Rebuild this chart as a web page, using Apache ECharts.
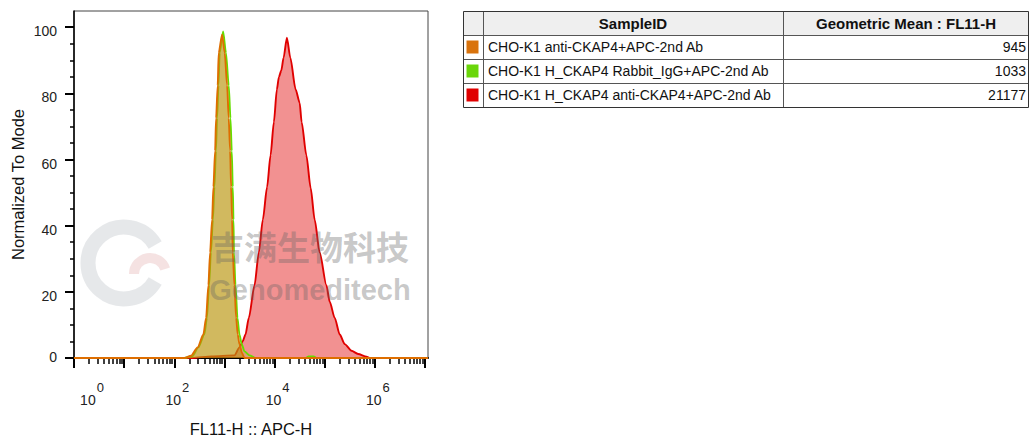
<!DOCTYPE html>
<html>
<head>
<meta charset="utf-8">
<script src="https://cdn.jsdelivr.net/npm/echarts@6/dist/echarts.min.js"></script>
<style>
html,body{margin:0;padding:0;background:#fff;}
#chart{width:1030px;height:442px;}
</style>
</head>
<body>
<div id="chart"></div>
<script>
// ---------- data ----------
const xMin = 1;
const xMax = 11481536; // right edge of the plot (~10^7.06)

const redX = [1, 229, 550, 1585, 1995, 2323, 2630, 3062, 3981, 4853, 5834, 7079, 8318, 9683, 11117, 12190, 13614, 15136, 17620, 20606, 26303, 31623, 34674, 43053, 52481, 63096, 79433, 108143, 125893, 158489, 199526, 251189, 341979, 463447, 682339, 794328, 11481536];
const redY = [0, 0, 0.5, 0.8, 3.2, 5.1, 7.1, 12.1, 22, 31.9, 41.8, 51.6, 61.3, 71.3, 81.2, 84.9, 86.9, 90.8, 96.8, 90.8, 81.2, 77.2, 71.3, 61.3, 51.4, 41.8, 31.9, 22, 17, 12.1, 7.1, 4.2, 2.2, 1.2, 0.4, 0, 0];

const greenX = [1, 160, 229, 302, 398, 447, 494, 537, 589, 631, 676, 714, 759, 805, 942, 1072, 1219, 1318, 1400, 1466, 1514, 1549, 1660, 1820, 1995, 2218, 2512, 3162, 4169, 41687, 47863, 60256, 69183, 11481536];
const greenY = [0, 0, 0.5, 3.2, 7.1, 12.1, 22, 31.9, 41.8, 51.7, 62.6, 72.5, 82.4, 92.3, 98.7, 92.3, 82.4, 72.5, 62.6, 51.7, 41.8, 31.9, 22, 12.1, 7.1, 4.2, 2, 0.8, 0, 0, 0.5, 0.5, 0, 0];

const orangeX = [1, 158, 216, 292, 380, 431, 479, 518, 568, 603, 652, 682, 735, 769, 899, 1014, 1132, 1219, 1300, 1361, 1426, 1466, 1585, 1714, 1845, 1995, 2239, 2512, 11481536];
const orangeY = [0, 0, 0.7, 3.2, 7.1, 12.1, 22, 31.9, 41.8, 51.7, 62.6, 72.5, 82.4, 92.3, 97.7, 92.3, 82.4, 72.5, 62.6, 51.7, 41.8, 31.9, 22, 12.1, 7.1, 4.2, 1.5, 0, 0];

const sampleIds = ['CHO-K1 anti-CKAP4+APC-2nd Ab', 'CHO-K1 H_CKAP4 Rabbit_IgG+APC-2nd Ab', 'CHO-K1 H_CKAP4 anti-CKAP4+APC-2nd Ab'];
const geoMeans = ['945', '1033', '21177'];
const sampleColors = ['#d9730d', '#6ad60a', '#e00000'];
const tableHeaders = ['SampleID', 'Geometric Mean : FL11-H'];

const xMajorTicks = [1, 10, 100, 1000, 10000, 100000, 1000000, 10000000];
const xLabelTicks = [1, 100, 10000, 1000000];
const yMajorTicks = [0, 20, 40, 60, 80, 100];
const yMinorTicks = [5, 10, 15, 25, 30, 35, 45, 50, 55, 65, 70, 75, 85, 90, 95];
const xMinorTicks = [];
[1, 10, 100, 1000, 10000, 100000, 1000000].forEach(function (d) {
  [2, 3, 4, 5, 6, 7, 8, 9].forEach(function (m) { xMinorTicks.push(m * d); });
});
const yMax = 104.9;

// ---------- chart ----------
const FONT = '"Liberation Sans", Arial, Helvetica, sans-serif';
const zip = (xs, ys) => xs.map((x, i) => [x, ys[i]]);
const chart = echarts.init(document.getElementById('chart'), null, { renderer: 'svg' });

// table graphic
const T = { x: 463, y: 11, rowH: 24, c1: 483, c2: 783, right: 1029 };
const gEls = [];
const nRows = sampleIds.length + 1;
gEls.push({ type: 'rect', shape: { x: T.x, y: T.y, width: T.right - T.x, height: T.rowH }, style: { fill: '#efefef' } });
for (let r = 0; r < sampleIds.length; r++) {
  const yy = T.y + T.rowH * (r + 1);
  gEls.push({ type: 'rect', shape: { x: T.x + 3.5, y: yy + 5.5, width: 12, height: 13 }, style: { fill: sampleColors[r] } });
  gEls.push({ type: 'text', x: T.c1 + 5, y: yy + T.rowH / 2, style: { text: sampleIds[r], font: '14px ' + FONT, fill: '#111', verticalAlign: 'middle', align: 'left' } });
  gEls.push({ type: 'text', x: T.right - 3, y: yy + T.rowH / 2, style: { text: geoMeans[r], font: '14px ' + FONT, fill: '#111', verticalAlign: 'middle', align: 'right' } });
}
gEls.push({ type: 'text', x: (T.c1 + T.c2) / 2, y: T.y + T.rowH / 2, style: { text: tableHeaders[0], font: 'bold 15px ' + FONT, fill: '#111', verticalAlign: 'middle', align: 'center' } });
gEls.push({ type: 'text', x: (T.c2 + T.right) / 2, y: T.y + T.rowH / 2, style: { text: tableHeaders[1], font: 'bold 15px ' + FONT, fill: '#111', verticalAlign: 'middle', align: 'center' } });
for (let r = 1; r < nRows; r++) {
  const yy = T.y + T.rowH * r + 0.5;
  gEls.push({ type: 'line', shape: { x1: T.x, y1: yy, x2: T.right, y2: yy }, style: { stroke: '#555', lineWidth: 1 } });
}
gEls.push({ type: 'line', shape: { x1: T.c1 + 0.5, y1: T.y, x2: T.c1 + 0.5, y2: T.y + T.rowH * nRows }, style: { stroke: '#555', lineWidth: 1 } });
gEls.push({ type: 'line', shape: { x1: T.c2 + 0.5, y1: T.y, x2: T.c2 + 0.5, y2: T.y + T.rowH * nRows }, style: { stroke: '#555', lineWidth: 1 } });
gEls.push({ type: 'rect', shape: { x: T.x + 0.5, y: T.y + 0.5, width: T.right - T.x - 1, height: T.rowH * nRows }, style: { fill: 'none', stroke: '#333', lineWidth: 1 } });

// watermark (drawn over the plot, semi-transparent)
gEls.push({ type: 'text', x: 310, y: 246, z: 100, style: { text: '吉满生物科技', font: 'bold 33px "Noto Sans CJK SC", sans-serif', fill: 'rgba(100,100,100,0.36)', align: 'center', verticalAlign: 'middle' } });
gEls.push({ type: 'text', x: 310, y: 290, z: 100, style: { text: 'Genomeditech', font: 'bold 29px ' + FONT, fill: 'rgba(100,100,100,0.36)', align: 'center', verticalAlign: 'middle' } });
gEls.push({ type: 'arc', z: 100, shape: { cx: 124, cy: 263, r: 36, startAngle: Math.PI / 6, endAngle: Math.PI * 11 / 6, clockwise: true }, style: { stroke: 'rgba(140,150,160,0.22)', lineWidth: 15, fill: null } });
gEls.push({ type: 'arc', z: 100, shape: { cx: 150, cy: 274, r: 16, startAngle: Math.PI, endAngle: Math.PI * 1.9, clockwise: true }, style: { stroke: 'rgba(215,140,140,0.25)', lineWidth: 10, fill: null } });

const option = {
  animation: false,
  backgroundColor: '#fff',
  textStyle: { fontFamily: FONT },
  grid: { left: 74, right: 602, top: 11, bottom: 78, show: true, borderColor: '#444', borderWidth: 1, backgroundColor: 'transparent' },
  xAxis: [{
    type: 'log', logBase: 10, min: xMin, max: xMax, position: 'bottom',
    axisLine: { show: true, onZero: false, lineStyle: { color: '#000', width: 2 } },
    axisTick: { show: true, customValues: xMajorTicks, length: 10, lineStyle: { color: '#000', width: 2 } },
    axisLabel: {
      customValues: xLabelTicks, margin: 23,
      formatter: function (v) {
        const e = Math.round(Math.log10(v));
        return (e === 0 ? '{b0|10}' : '{b|10}') + '{s|' + e + '}';
      },
      rich: {
        b: { fontSize: 14, color: '#222', fontFamily: FONT, padding: [0, 0, 0, 6], verticalAlign: 'bottom' },
        b0: { fontSize: 14, color: '#222', fontFamily: FONT, padding: [0, 0, 0, 36], verticalAlign: 'bottom' },
        s: { fontSize: 13, color: '#222', fontFamily: FONT, padding: [0, 0, 13, 1], verticalAlign: 'bottom' }
      }
    },
    splitLine: { show: false },
    name: 'FL11-H :: APC-H', nameLocation: 'middle', nameGap: 62,
    nameTextStyle: { fontSize: 16.5, color: '#111', fontFamily: FONT }
  }, {
    type: 'log', logBase: 10, min: xMin, max: xMax, position: 'bottom',
    axisLine: { show: false },
    axisTick: { show: true, customValues: xMinorTicks, length: 6, lineStyle: { color: '#000', width: 1.5 } },
    axisLabel: { show: false },
    splitLine: { show: false }
  }],
  yAxis: [{
    type: 'value', min: 0, max: yMax, position: 'left',
    axisLine: { show: true, lineStyle: { color: '#000', width: 1.5 } },
    axisTick: { show: true, customValues: yMajorTicks, length: 9, lineStyle: { color: '#000', width: 2 } },
    axisLabel: {
      customValues: yMajorTicks, margin: 17,
      formatter: function (v) { return v === 0 ? '{z|0}' : '{n|' + v + '}'; },
      rich: {
        n: { fontSize: 14, color: '#222', fontFamily: FONT, padding: [8, 0, 0, 0] },
        z: { fontSize: 14, color: '#222', fontFamily: FONT, padding: [0, 0, 3, 0] }
      }
    },
    splitLine: { show: false },
    name: 'Normalized To Mode', nameLocation: 'middle', nameGap: 48,
    nameTextStyle: { fontSize: 16.5, color: '#111', fontFamily: FONT }
  }, {
    type: 'value', min: 0, max: yMax, position: 'left',
    axisLine: { show: false },
    axisTick: { show: true, customValues: yMinorTicks, length: 4, lineStyle: { color: '#000', width: 1.5 } },
    axisLabel: { show: false },
    splitLine: { show: false }
  }],
  series: [
    { name: sampleIds[2], type: 'line', data: zip(redX, redY), showSymbol: false, smooth: 0.25, smoothMonotone: 'x',
      lineStyle: { color: '#e00000', width: 1.9 }, areaStyle: { color: 'rgba(224,0,0,0.43)', opacity: 1 }, z: 2 },
    { name: sampleIds[1], type: 'line', data: zip(greenX, greenY), showSymbol: false, smooth: 0.25, smoothMonotone: 'x',
      lineStyle: { color: '#66dd00', width: 1.9 }, areaStyle: { color: 'rgba(102,221,0,0.15)', opacity: 1 }, z: 3 },
    { name: sampleIds[0], type: 'line', data: zip(orangeX, orangeY), showSymbol: false, smooth: 0.25, smoothMonotone: 'x',
      lineStyle: { color: '#de6e00', width: 1.9 }, areaStyle: { color: 'rgba(195,145,20,0.62)', opacity: 1 }, z: 4 }
  ],
  graphic: gEls
};
chart.setOption(option);
</script>
</body>
</html>
